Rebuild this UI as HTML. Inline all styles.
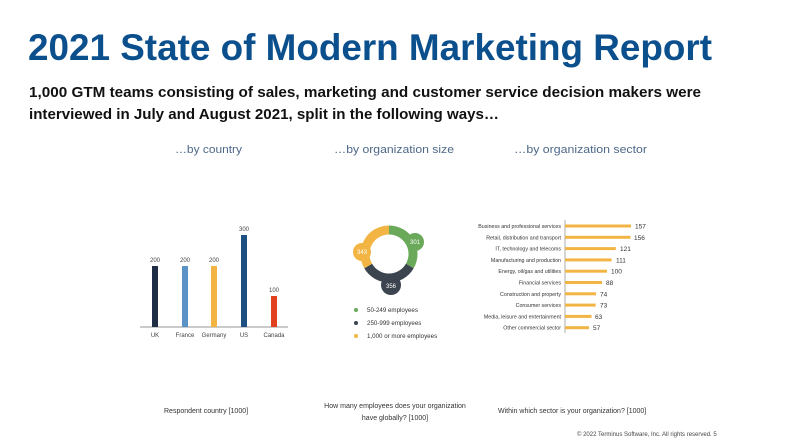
<!DOCTYPE html>
<html><head><meta charset="utf-8"><style>
html,body{margin:0;padding:0;background:#fff;}
svg{display:block;font-family:"Liberation Sans",sans-serif;}
</style></head><body>
<svg width="787" height="442" viewBox="0 0 787 442" xmlns="http://www.w3.org/2000/svg">
<rect width="787" height="442" fill="#fff"/>
<text x="28" y="60" font-size="37" font-weight="bold" fill="#0b4f8d" textLength="684" lengthAdjust="spacingAndGlyphs">2021 State of Modern Marketing Report</text>
<text x="29" y="97" font-size="15" font-weight="bold" fill="#111" textLength="672" lengthAdjust="spacingAndGlyphs">1,000 GTM teams consisting of sales, marketing and customer service decision makers were</text>
<text x="29" y="119" font-size="15" font-weight="bold" fill="#111" textLength="470" lengthAdjust="spacingAndGlyphs">interviewed in July and August 2021, split in the following ways…</text>
<g font-size="11" fill="#4d6888">
<text x="175" y="153" textLength="67" lengthAdjust="spacingAndGlyphs">…by country</text>
<text x="334" y="153" textLength="120" lengthAdjust="spacingAndGlyphs">…by organization size</text>
<text x="514" y="153" textLength="133" lengthAdjust="spacingAndGlyphs">…by organization sector</text>
</g>
<line x1="140" y1="327" x2="288" y2="327" stroke="#aaa" stroke-width="1.2"/>
<rect x="152" y="266" width="6" height="61" fill="#1f2d45"/>
<rect x="182" y="266" width="6" height="61" fill="#5b93c6"/>
<rect x="211" y="266" width="6" height="61" fill="#f2b544"/>
<rect x="241" y="235" width="6" height="92" fill="#1d4f80"/>
<rect x="271" y="296" width="6" height="31" fill="#e0401e"/>
<g font-size="6" fill="#444" text-anchor="middle">
<text x="155" y="262">200</text><text x="185" y="262">200</text><text x="214" y="262">200</text>
<text x="244" y="231">300</text><text x="274" y="292">100</text>
<text x="155" y="337">UK</text><text x="185" y="337">France</text><text x="214" y="337">Germany</text>
<text x="244" y="337">US</text><text x="274" y="337">Canada</text>
</g>
<g fill="none" stroke-width="9">
<path d="M389 230 A24 24 0 0 1 409.8 266" stroke="#6aa95a"/>
<path d="M409.8 266 A24 24 0 0 1 368.2 266" stroke="#3c4450"/>
<path d="M368.2 266 A24 24 0 0 1 389 230" stroke="#f2b544"/>
</g>
<circle cx="415" cy="242" r="9" fill="#6aa95a"/>
<circle cx="391" cy="285" r="10" fill="#3c4450"/>
<circle cx="362" cy="252" r="9" fill="#f2b544"/>
<g font-size="6" fill="#fff" text-anchor="middle">
<text x="415" y="244">301</text><text x="391" y="288">356</text><text x="362" y="254">343</text>
</g>
<circle cx="356" cy="310" r="2" fill="#6aa95a"/>
<circle cx="356" cy="323" r="2" fill="#3c4450"/>
<circle cx="356" cy="336" r="2" fill="#f2b544"/>
<g font-size="6.2" fill="#333">
<text x="367" y="312">50-249 employees</text>
<text x="367" y="325">250-999 employees</text>
<text x="367" y="338">1,000 or more employees</text>
</g>
<line x1="565" y1="220" x2="565" y2="333" stroke="#999" stroke-width="0.8"/>
<g fill="#f2b544">
<rect x="565" y="224.5" width="66" height="3"/>
<rect x="565" y="235.8" width="65.5" height="3"/>
<rect x="565" y="247.1" width="50.8" height="3"/>
<rect x="565" y="258.4" width="46.6" height="3"/>
<rect x="565" y="269.7" width="42" height="3"/>
<rect x="565" y="281" width="37" height="3"/>
<rect x="565" y="292.3" width="31.1" height="3"/>
<rect x="565" y="303.6" width="30.7" height="3"/>
<rect x="565" y="314.9" width="26.5" height="3"/>
<rect x="565" y="326.2" width="24" height="3"/>
</g>
<g font-size="5.3" fill="#333" text-anchor="end">
<text x="561" y="228">Business and professional services</text>
<text x="561" y="239.3">Retail, distribution and transport</text>
<text x="561" y="250.6">IT, technology and telecoms</text>
<text x="561" y="261.9">Manufacturing and production</text>
<text x="561" y="273.2">Energy, oil/gas and utilities</text>
<text x="561" y="284.5">Financial services</text>
<text x="561" y="295.8">Construction and property</text>
<text x="561" y="307.1">Consumer services</text>
<text x="561" y="318.4">Media, leisure and entertainment</text>
<text x="561" y="329.7">Other commercial sector</text>
</g>
<g font-size="6.5" fill="#333">
<text x="635" y="228.5">157</text><text x="634" y="239.8">156</text><text x="620" y="251.1">121</text>
<text x="616" y="262.4">111</text><text x="611" y="273.7">100</text><text x="606" y="285">88</text>
<text x="600" y="296.3">74</text><text x="600" y="307.6">73</text><text x="595" y="318.9">63</text>
<text x="593" y="330.2">57</text>
</g>
<g font-size="7" fill="#333">
<text x="164" y="413">Respondent country [1000]</text>
<text x="395" y="408" text-anchor="middle">How many employees does your organization</text>
<text x="395" y="420" text-anchor="middle">have globally? [1000]</text>
<text x="498" y="413">Within which sector is your organization? [1000]</text>
</g>
<text x="577" y="436" font-size="6" fill="#444">© 2022 Terminus Software, Inc. All rights reserved.  5</text>
</svg>
</body></html>
